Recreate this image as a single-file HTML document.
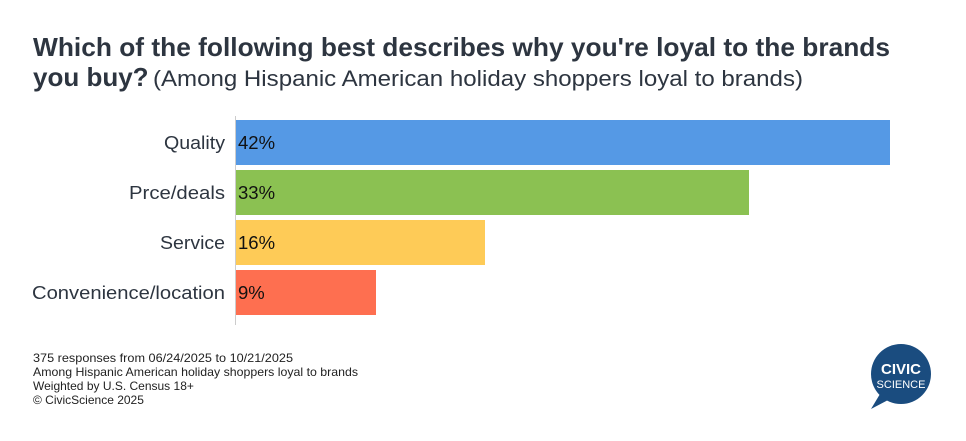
<!DOCTYPE html>
<html><head><meta charset="utf-8"><style>
html,body{margin:0;padding:0;background:#fff;}
svg{display:block;font-family:"Liberation Sans",sans-serif;}
</style></head><body>
<svg width="966" height="441" viewBox="0 0 966 441" xmlns="http://www.w3.org/2000/svg">
<rect width="966" height="441" fill="#fff"/>
<text x="33" y="56" font-size="26" font-weight="bold" fill="#2d3540" textLength="857" lengthAdjust="spacingAndGlyphs">Which of the following best describes why you're loyal to the brands</text>
<text x="33" y="86" font-size="26" font-weight="bold" fill="#2d3540">you buy?</text>
<text x="153" y="86" font-size="22" fill="#2d3540" textLength="650" lengthAdjust="spacingAndGlyphs">(Among Hispanic American holiday shoppers loyal to brands)</text>
<line x1="235.5" y1="116" x2="235.5" y2="325" stroke="#ccc" stroke-width="1"/>
<rect x="236" y="120" width="654" height="45" fill="#5599e5"/>
<rect x="236" y="170" width="513" height="45" fill="#8bc152"/>
<rect x="236" y="220" width="249" height="45" fill="#fecb57"/>
<rect x="236" y="270" width="140" height="45" fill="#fe6f50"/>
<g font-size="18" fill="#2d3540">
<text x="164" y="149" textLength="61" lengthAdjust="spacingAndGlyphs">Quality</text>
<text x="129" y="199" textLength="96" lengthAdjust="spacingAndGlyphs">Prce/deals</text>
<text x="160" y="249" textLength="65" lengthAdjust="spacingAndGlyphs">Service</text>
<text x="32" y="299" textLength="193" lengthAdjust="spacingAndGlyphs">Convenience/location</text>
</g>
<g font-size="18.5" fill="#111">
<text x="238" y="149">42%</text>
<text x="238" y="199">33%</text>
<text x="238" y="249">16%</text>
<text x="238" y="299">9%</text>
</g>
<g font-size="12" fill="#222">
<text x="33" y="362" textLength="260" lengthAdjust="spacingAndGlyphs">375 responses from 06/24/2025 to 10/21/2025</text>
<text x="33" y="376" textLength="325" lengthAdjust="spacingAndGlyphs">Among Hispanic American holiday shoppers loyal to brands</text>
<text x="33" y="390">Weighted by U.S. Census 18+</text>
<text x="33" y="404">© CivicScience 2025</text>
</g>
<circle cx="901" cy="374" r="30" fill="#1a4c7f"/>
<path d="M880 394 L871 409 L890 399 Z" fill="#1a4c7f"/>
<text x="901" y="374" font-size="15" font-weight="bold" fill="#fff" text-anchor="middle">CIVIC</text>
<text x="901" y="388" font-size="11" fill="#fff" text-anchor="middle">SCIENCE</text>
</svg>
</body></html>
